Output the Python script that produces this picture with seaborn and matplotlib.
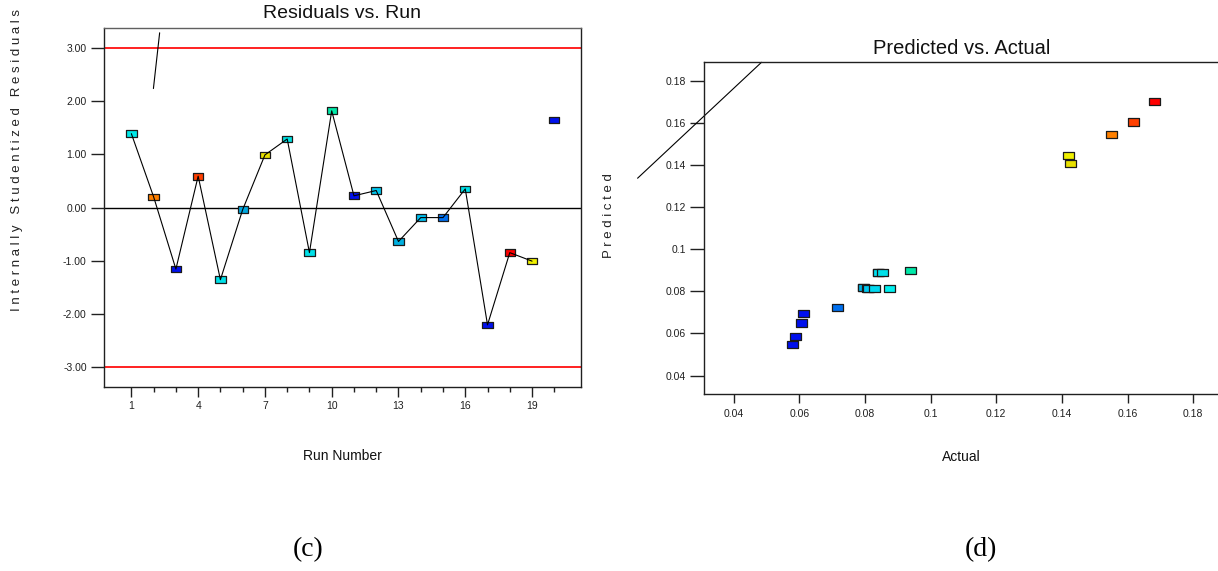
import numpy as np
import pandas as pd
import matplotlib
matplotlib.use("Agg")
import matplotlib.pyplot as plt
from matplotlib.path import Path
from matplotlib.markers import MarkerStyle
from matplotlib.ticker import FixedLocator
import seaborn as sns

# ---------------- data ----------------
run_number = list(range(1, 21))
residuals = [1.39, 0.20, -1.16, 0.59, -1.36, -0.04, 0.99, 1.29, -0.85, 1.82,
             0.22, 0.32, -0.64, -0.19, -0.19, 0.35, -2.21, -0.85, -1.01, 1.65]
run_colors = ['#00e8e8', '#ff8000', '#0010ee', '#ff4000', '#00e0e8', '#00a8e0',
              '#e8e000', '#00e0e0', '#00e0e8', '#00e8a8', '#0010ee', '#00c8f0',
              '#00b0e0', '#00c0f0', '#0070f0', '#00e0e8', '#0010ee', '#ff0000',
              '#f0f000', '#0010ee']
limit_lines = [3.0, -3.0]
run_major_ticks = [1, 4, 7, 10, 13, 16, 19]
run_minor_ticks = [2, 3, 5, 6, 8, 9, 11, 12, 14, 15, 17, 18, 20]
resid_ticks = [-3.0, -2.0, -1.0, 0.0, 1.0, 2.0, 3.0]
resid_tick_labels = ['-3.00', '-2.00', '-1.00', '0.00', '1.00', '2.00', '3.00']
resid_artifact_x = [2.27, 1.99]
resid_artifact_y = [3.29, 2.24]

actual = [0.0581, 0.0590, 0.0606, 0.0613, 0.0717,
          0.0795, 0.0797, 0.0808, 0.0810, 0.0828, 0.0840, 0.0842, 0.0855, 0.0875,
          0.0940, 0.1420, 0.1426, 0.1551, 0.1617, 0.1683]
predicted = [0.0547, 0.0587, 0.0650, 0.0695, 0.0723,
             0.0820, 0.0818, 0.0815, 0.0815, 0.0815, 0.0889, 0.0889, 0.0888, 0.0815,
             0.0901, 0.1444, 0.1407, 0.1545, 0.1605, 0.1704]
pred_colors = ['#0010ee', '#0010ee', '#0010ee', '#0010ee', '#0070f0',
               '#00a0e0', '#00b0e0', '#00c0f0', '#00c8f0', '#00d8f0', '#00e8e8', '#00e0f0',
               '#00e0e8', '#00f0f0', '#00e8a8', '#f0f000', '#e8e000', '#ff8000',
               '#ff4000', '#ff0000']
pa_ticks = [0.04, 0.06, 0.08, 0.10, 0.12, 0.14, 0.16, 0.18]
pa_tick_labels = ['0.04', '0.06', '0.08', '0.1', '0.12', '0.14', '0.16', '0.18']
pa_artifact_x = [0.01078, 0.04852]
pa_artifact_y = [0.1338, 0.1889]

# ---------------- style ----------------
sns.set_theme(style="ticks")
plt.rcParams['font.family'] = ['Liberation Sans', 'DejaVu Sans']
plt.rcParams['axes.edgecolor'] = '#202020'
plt.rcParams['axes.linewidth'] = 1.0

W, H = 1218, 571
fig = plt.figure(figsize=(W / 100, H / 100), dpi=100)

def fx(px):
    return px / W

def fy(py):
    return 1 - py / H

rect = Path([(-1.0, -0.65), (1.0, -0.65), (1.0, 0.65), (-1.0, 0.65), (-1.0, -0.65)],
            [Path.MOVETO, Path.LINETO, Path.LINETO, Path.LINETO, Path.CLOSEPOLY])
rect_marker = MarkerStyle(rect)

# ---------------- left: residuals vs run ----------------
ax1 = fig.add_axes([fx(104), fy(387), fx(581 - 104), (387 - 28) / H])
df1 = pd.DataFrame({'run': run_number, 'resid': residuals,
                    'key': [f'r{i}' for i in run_number]})
for yv in limit_lines:
    ax1.axhline(yv, color='#ff2020', lw=1.4, zorder=1)
ax1.axhline(0.0, color='black', lw=1.0, zorder=1)
sns.lineplot(data=df1.iloc[:19], x='run', y='resid', color='black', lw=0.8,
             estimator=None, sort=False, ax=ax1, zorder=4)
sns.scatterplot(data=df1, x='run', y='resid', hue='key',
                palette=dict(zip(df1['key'], run_colors)), legend=False,
                marker=rect_marker, s=55, edgecolor='#1a1a1a', linewidth=0.9,
                ax=ax1, zorder=3)
ax1.plot(resid_artifact_x, resid_artifact_y, color='black', lw=0.8)
ax1.set_xlim(-0.23, 21.2)
ax1.set_ylim(-3.38, 3.38)
ax1.xaxis.set_major_locator(FixedLocator(run_major_ticks))
ax1.xaxis.set_minor_locator(FixedLocator(run_minor_ticks))
ax1.set_xticklabels([str(t) for t in run_major_ticks])
ax1.set_yticks(resid_ticks)
ax1.set_yticklabels(resid_tick_labels)
ax1.tick_params(axis='x', which='major', length=7, width=1, pad=3, labelsize=7.5, colors='#202020')
ax1.tick_params(axis='x', which='minor', length=3.6, width=1, colors='#202020')
ax1.tick_params(axis='y', which='major', length=9.4, width=1, pad=3, labelsize=7.5, colors='#202020')
ax1.set_xlabel('')
ax1.set_ylabel('')
ax1.spines['top'].set_color('#606060')

# ---------------- right: predicted vs actual ----------------
ax2 = fig.add_axes([fx(704.3), fy(394.3), fx(1222.5 - 704.3), (394.3 - 62.3) / H])
df2 = pd.DataFrame({'actual': actual, 'predicted': predicted,
                    'key': [f'p{i}' for i in range(len(actual))]})
sns.scatterplot(data=df2, x='actual', y='predicted', hue='key',
                palette=dict(zip(df2['key'], pred_colors)), legend=False,
                marker=rect_marker, s=62, edgecolor='#1a1a1a', linewidth=0.9,
                ax=ax2, zorder=3)
ax2.plot(pa_artifact_x, pa_artifact_y, color='black', lw=0.8, clip_on=False)
ax2.set_xlim(0.0311, 0.1889)
ax2.set_ylim(0.0311, 0.1889)
ax2.set_xticks(pa_ticks)
ax2.set_xticklabels(pa_tick_labels)
ax2.set_yticks(pa_ticks)
ax2.set_yticklabels(pa_tick_labels)
ax2.tick_params(axis='x', length=6.5, width=1, pad=4, labelsize=7.5, colors='#202020')
ax2.tick_params(axis='y', length=10, width=1, pad=3, labelsize=7.5, colors='#202020')
ax2.set_xlabel('')
ax2.set_ylabel('')

# ---------------- text ----------------
fig.text(fx(342), fy(13), 'Residuals vs. Run', ha='center', va='center', fontsize=14, color='#111111')
fig.text(fx(962), fy(49), 'Predicted vs. Actual', ha='center', va='center', fontsize=14.5, color='#111111')
fig.text(fx(17), fy(160), ' '.join('Internally Studentized Residuals'), rotation=90,
         ha='center', va='center', fontsize=9.5, color='#222222')
fig.text(fx(609), fy(216), ' '.join('Predicted'), rotation=90,
         ha='center', va='center', fontsize=9.5, color='#222222')
fig.text(fx(342), fy(456), 'Run Number', ha='center', va='center', fontsize=10, color='#111111')
fig.text(fx(961), fy(457), 'Actual', ha='center', va='center', fontsize=10, color='#111111')
fig.text(fx(308), fy(550), '(c)', ha='center', va='center', fontsize=20,
         family=['Liberation Serif', 'DejaVu Serif'], color='black')
fig.text(fx(981), fy(550), '(d)', ha='center', va='center', fontsize=20,
         family=['Liberation Serif', 'DejaVu Serif'], color='black')

fig.savefig('out.png', dpi=100)
